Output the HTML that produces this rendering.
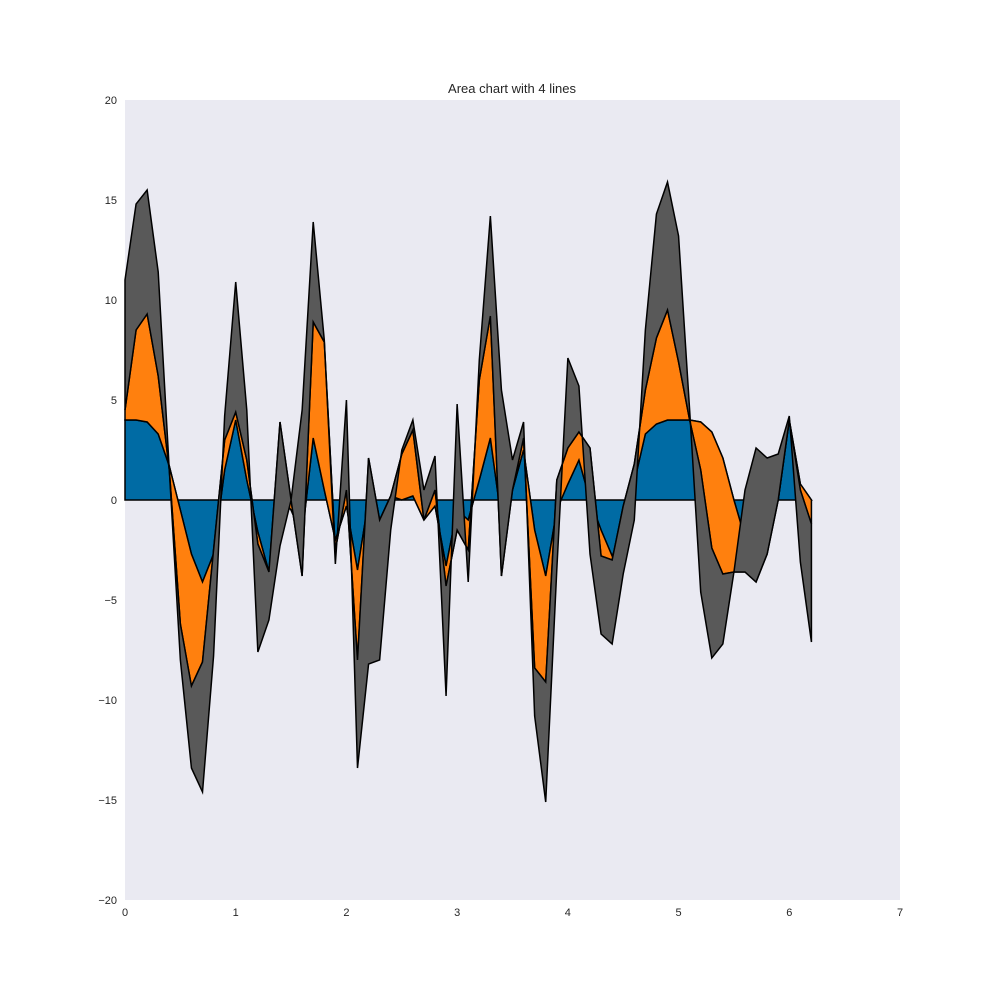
<!DOCTYPE html>
<html><head><meta charset="utf-8">
<style>
body{margin:0;background:#fff;}
svg{display:block;font-family:"Liberation Sans","DejaVu Sans",sans-serif;}
</style></head>
<body>
<svg id="chart" width="1000" height="1000" viewBox="0 0 1000 1000">
<rect x="125" y="100" width="775" height="800" fill="#EAEAF2"/>
<g id="layers"></g>
<g id="xticks"></g>
<g id="yticks"></g>
<text x="512" y="93" text-anchor="middle" font-size="13" fill="#262626">Area chart with 4 lines</text>
</svg>
<script>
const xValues = [0,0.1,0.2,0.3,0.4,0.5,0.6,0.7,0.8,0.9,1,1.1,1.2,1.3,1.4,1.5,1.6,1.7,1.8,1.9,2,2.1,2.2,2.3,2.4,2.5,2.6,2.7,2.8,2.9,3,3.1,3.2,3.3,3.4,3.5,3.6,3.7,3.8,3.9,4,4.1,4.2,4.3,4.4,4.5,4.6,4.7,4.8,4.9,5,5.1,5.2,5.3,5.4,5.5,5.6,5.7,5.8,5.9,6,6.1,6.2];
const blueTop = [4,4,3.9,3.3,1.7,-0.5,-2.7,-4.1,-2.7,1.5,4,1,-1.6,-3.6,0.2,-0.5,-1.8,3.1,0.5,-2,-0.3,-3.5,0,-1,0.2,0,0.2,-1,-0.3,-3.3,-0.5,-1,1,3.1,-1,0.5,2.5,-1.5,-3.8,-0.5,0.8,2,0,-1.5,-2.8,-1.5,0.9,3.3,3.8,4,4,4,3.9,3.4,2.1,0,-1.9,-3.6,-2,0,4,0.8,0];
const orangeTop = [4.5,8.5,9.3,6.2,1.5,-6.2,-9.3,-8.1,-2.5,3,4.4,2,-2.2,-3.6,3.9,0,-3.8,8.9,7.9,-2.5,0.5,-8,2.1,-1,0.2,2.3,3.5,-1,0.5,-4.3,-1.5,-2.5,6,9.2,-3.8,0.5,3.1,-8.4,-9.1,1,2.6,3.4,2.6,-2.8,-3,-0.3,1.8,5.5,8.1,9.5,6.9,4,1.5,-2.4,-3.7,-3.6,-3.6,-4.1,-2.7,0,4,0.5,-1.2];
const grayTop = [11,14.8,15.5,11.4,1.5,-8,-13.4,-14.6,-7.8,4.2,10.9,4.5,-7.6,-6,-2.3,0,4.5,13.9,8,-3.2,5,-13.4,-8.2,-8,-1.5,2.5,4,0.5,2.2,-9.8,4.8,-4.1,7,14.2,5.5,2,3.9,-10.8,-15.1,-3.5,7.1,5.7,-2.7,-6.7,-7.2,-3.7,-1,8.5,14.3,15.9,13.2,4.5,-4.6,-7.9,-7.2,-3.6,0.5,2.6,2.1,2.3,4.2,-3.1,-7.1];
const xTickLabels = ["0","1","2","3","4","5","6","7"];
const yTickLabels = ["\u221220","\u221215","\u221210","\u22125","0","5","10","15","20"];
const yTickValues = [-20,-15,-10,-5,0,5,10,15,20];

const xs = v => 125 + v * (775 / 7);
const ys = v => 500 - v * 20;
const NS = "http://www.w3.org/2000/svg";
const layersG = document.getElementById('layers');
const zero = xValues.map(() => 0);
const layerDefs = [
  {lower: zero, upper: blueTop, color: '#006BA4', name: 'area-series-1'},
  {lower: blueTop, upper: orangeTop, color: '#FF800E', name: 'area-series-2'},
  {lower: orangeTop, upper: grayTop, color: '#595959', name: 'area-series-3'}
];
layerDefs.forEach(L => {
  let d = '';
  xValues.forEach((x, i) => { d += (i ? 'L' : 'M') + xs(x).toFixed(2) + ',' + ys(L.upper[i]).toFixed(2); });
  for (let i = xValues.length - 1; i >= 0; i--) d += 'L' + xs(xValues[i]).toFixed(2) + ',' + ys(L.lower[i]).toFixed(2);
  d += 'Z';
  const p = document.createElementNS(NS, 'path');
  p.setAttribute('d', d);
  p.setAttribute('fill', L.color);
  p.setAttribute('stroke', '#000');
  p.setAttribute('stroke-width', '1.5');
  p.setAttribute('stroke-linejoin', 'miter');
  
  
  layersG.appendChild(p);
});

const xg = document.getElementById('xticks');
xTickLabels.forEach((lab, i) => {
  const t = document.createElementNS(NS, 'text');
  t.setAttribute('x', xs(i));
  t.setAttribute('y', 916);
  t.setAttribute('text-anchor', 'middle');
  t.setAttribute('font-size', '11');
  t.setAttribute('fill', '#262626');
  t.textContent = lab;
  
  
  xg.appendChild(t);
});
const yg = document.getElementById('yticks');
yTickValues.forEach((v, i) => {
  const t = document.createElementNS(NS, 'text');
  t.setAttribute('x', 117);
  t.setAttribute('y', ys(v) + 4);
  t.setAttribute('text-anchor', 'end');
  t.setAttribute('font-size', '11');
  t.setAttribute('fill', '#262626');
  t.textContent = yTickLabels[i];
  
  
  yg.appendChild(t);
});
</script>
</body></html>
